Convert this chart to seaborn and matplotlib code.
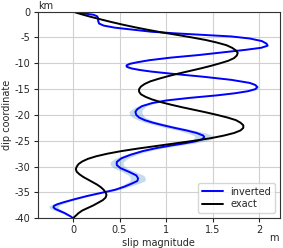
import numpy as np
import pandas as pd
import matplotlib
matplotlib.use('Agg')
import matplotlib.pyplot as plt
import seaborn as sns

# inverted slip (blue): depth in km, slip in m
inv_depth = [0, -0.3, -0.6, -0.9, -1.3, -1.8, -2.3, -2.7, -3.1, -3.5, -3.9, -4.2,
             -4.5, -4.8, -5.2, -5.7, -6.2, -6.6, -7.0, -7.4, -7.9, -8.4, -8.9, -9.4,
             -9.8, -10.1, -10.4, -10.7, -11.0, -11.3, -11.6, -12.0, -12.6, -13.2, -13.8, -14.2,
             -14.6, -15.0, -15.4, -15.8, -16.2, -16.7, -17.2, -17.7, -18.3, -18.9, -19.4,
             -20.0, -20.5, -21.0, -21.5, -22.0, -22.5, -23.0, -23.5, -24.0, -24.3,
             -24.7, -25.1, -25.5, -25.9, -26.4, -27.0, -27.7, -28.4, -29.1, -29.7, -30.3,
             -31.0, -31.7, -32.3, -32.8, -33.3, -33.9, -34.5, -35.1, -35.7, -36.3,
             -36.9, -37.3, -37.6, -37.9, -38.2, -38.6, -39.0, -39.4, -39.7, -40.0]
inv_slip = [0, 0.10, 0.22, 0.26, 0.27, 0.27, 0.28, 0.33, 0.45, 0.65, 0.85, 1.10,
            1.40, 1.70, 1.90, 2.03, 2.08, 2.09, 2.02, 1.85, 1.60, 1.35, 1.05, 0.82,
            0.69, 0.61, 0.575, 0.58, 0.63, 0.72, 0.84, 1.05, 1.40, 1.70, 1.90, 1.96,
            1.98, 1.96, 1.88, 1.74, 1.55, 1.25, 1.00, 0.85, 0.74, 0.69, 0.67,
            0.68, 0.71, 0.77, 0.86, 0.97, 1.09, 1.22, 1.33, 1.40, 1.41,
            1.39, 1.32, 1.20, 1.06, 0.90, 0.75, 0.62, 0.52, 0.47, 0.47, 0.51,
            0.60, 0.68, 0.70, 0.69, 0.63, 0.55, 0.45, 0.30, 0.15, 0.02,
            -0.10, -0.17, -0.205, -0.21, -0.19, -0.14, -0.09, -0.05, -0.02, 0]
inv_sigma = [0.005, 0.01, 0.01, 0.01, 0.01, 0.01, 0.01, 0.01, 0.01, 0.01, 0.01, 0.01,
             0.01, 0.01, 0.01, 0.01, 0.015, 0.015, 0.015, 0.015, 0.015, 0.015, 0.015, 0.015,
             0.02, 0.02, 0.02, 0.02, 0.02, 0.02, 0.02, 0.02, 0.02, 0.02, 0.02, 0.02,
             0.02, 0.02, 0.02, 0.02, 0.02, 0.03, 0.03, 0.04, 0.05, 0.06, 0.07,
             0.07, 0.07, 0.07, 0.08, 0.08, 0.09, 0.09, 0.10, 0.10, 0.10,
             0.10, 0.09, 0.09, 0.08, 0.07, 0.06, 0.06, 0.07, 0.07, 0.07, 0.07,
             0.07, 0.08, 0.08, 0.08, 0.07, 0.05, 0.04, 0.03, 0.03, 0.03,
             0.04, 0.05, 0.05, 0.05, 0.05, 0.04, 0.03, 0.02, 0.01, 0.005]

# exact slip (black)
exa_depth = [0, -0.5, -1.0, -1.5, -2.0, -2.5, -3.0, -3.5, -4.0, -4.5, -5.0, -5.5,
             -6.0, -6.5, -7.0, -7.5, -8.0, -8.5, -9.0, -9.5, -10.0, -10.5, -11.0,
             -11.5, -12.0, -12.5, -13.0, -13.5, -14.0, -14.5, -15.0, -15.5, -16.0,
             -16.5, -17.0, -17.5, -18.0, -18.5, -19.0, -19.5, -20.0, -20.5, -21.0,
             -21.5, -22.0, -22.5, -23.0, -23.5, -24.0, -24.5, -25.0, -25.5, -26.0,
             -26.5, -27.0, -27.5, -28.0, -28.5, -29.0, -29.5, -30.0, -30.5, -31.0,
             -31.5, -32.0, -32.5, -33.0, -33.5, -34.0, -34.5, -35.0, -35.5, -36.0,
             -36.5, -37.0, -37.5, -38.0, -38.5, -39.0, -39.5, -40.0]
exa_slip = [0, 0.09, 0.19, 0.30, 0.41, 0.53, 0.66, 0.80, 0.95, 1.12, 1.28, 1.43,
            1.55, 1.65, 1.71, 1.75, 1.77, 1.76, 1.73, 1.67, 1.58, 1.48, 1.37,
            1.25, 1.13, 1.02, 0.92, 0.83, 0.77, 0.73, 0.71, 0.71, 0.73,
            0.78, 0.85, 0.94, 1.05, 1.17, 1.30, 1.43, 1.55, 1.66, 1.75,
            1.80, 1.83, 1.83, 1.80, 1.73, 1.62, 1.48, 1.30, 1.10, 0.90,
            0.70, 0.52, 0.37, 0.25, 0.16, 0.10, 0.06, 0.04, 0.03, 0.04,
            0.07, 0.11, 0.16, 0.21, 0.26, 0.30, 0.33, 0.35, 0.36, 0.35,
            0.32, 0.27, 0.22, 0.16, 0.10, 0.06, 0.03, 0]

x_ticks = [0, 0.5, 1, 1.5, 2]
x_tick_labels = ['0', '0.5', '1', '1.5', '2']
y_ticks = [0, -5, -10, -15, -20, -25, -30, -35, -40]

sns.set_style("ticks", {"axes.grid": True, "grid.color": "#d0d0d0"})
plt.rcParams['font.family'] = ['DejaVu Sans']
plt.rcParams['axes.unicode_minus'] = False

inv = pd.DataFrame({'depth': inv_depth, 'slip': inv_slip, 'sigma': inv_sigma})
exa = pd.DataFrame({'depth': exa_depth, 'slip': exa_slip})

fig = plt.figure(figsize=(2.83, 2.48), dpi=100)
ax = fig.add_axes([0.133, 0.12, 0.855, 0.833])

ax.fill_betweenx(inv['depth'], inv['slip'] - inv['sigma'], inv['slip'] + inv['sigma'],
                 color='C0', alpha=0.25, linewidth=0)
sns.lineplot(data=inv, x='slip', y='depth', orient='y', sort=False, ax=ax,
             color='blue', linewidth=1.4, label='inverted')
sns.lineplot(data=exa, x='slip', y='depth', orient='y', sort=False, ax=ax,
             color='black', linewidth=1.4, label='exact')

ax.set_xlim(-0.38, 2.22)
ax.set_ylim(-40, 0)
ax.set_xticks(x_ticks)
ax.set_xticklabels(x_tick_labels)
ax.set_yticks(y_ticks)
ax.tick_params(labelsize=7, length=3, pad=2)
ax.set_xlabel('slip magnitude', fontsize=7, labelpad=2)
ax.set_ylabel('dip coordinate', fontsize=7, labelpad=2)
for s in ax.spines.values():
    s.set_color('#333333')
ax.text(0.0, 1.005, 'km', transform=ax.transAxes, ha='left', va='bottom', fontsize=7)
fig.text(0.983, 0.02, 'm', ha='right', va='bottom', fontsize=7)
ax.legend(loc='lower right', fontsize=7, handlelength=2.2, handletextpad=0.7,
          borderpad=0.4, labelspacing=0.3, fancybox=True)

fig.savefig('out.png', dpi=100)
